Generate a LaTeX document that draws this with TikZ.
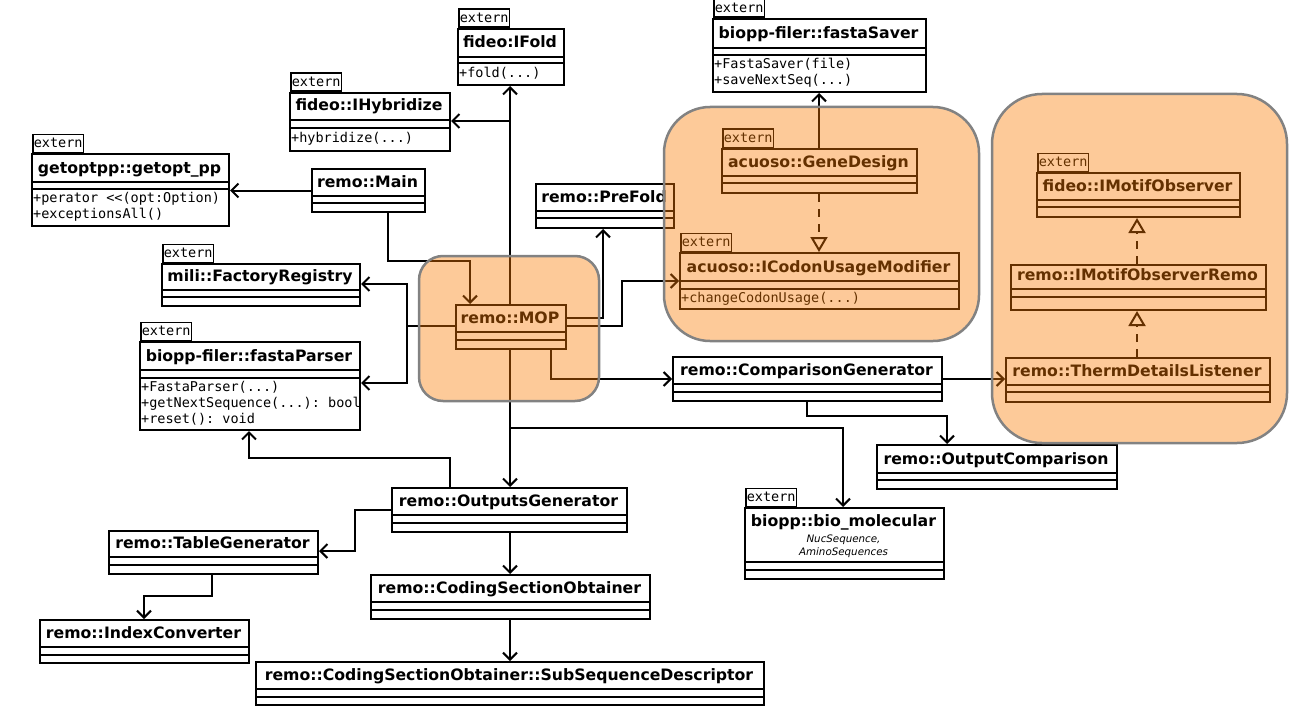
\documentclass[tikz,border=0pt]{standalone}
\usepackage{fontspec}
\setmainfont{DejaVu Sans}
\setmonofont{DejaVu Sans Mono}
\usetikzlibrary{arrows.meta}

\tikzset{
 cls/.style={draw=black, line width=2pt, fill=white, inner sep=0pt, anchor=north west},
 ttl/.style={font=\fontsize{15.7}{18}\selectfont\bfseries, inner sep=0pt, anchor=base},
 meth/.style={font=\fontsize{13.5}{16}\selectfont\ttfamily, align=left, anchor=north west, inner sep=0pt},
 tabbox/.style={draw, line width=1.5pt, fill=white, font=\fontsize{13.5}{14}\selectfont\ttfamily, inner xsep=1pt, inner ysep=0pt, minimum height=18pt, anchor=south west},
 conn/.style={line width=2pt},
 arr/.style={conn, -{Straight Barb[length=7pt,width=14pt,line width=2pt]}},
 real/.style={line width=2pt, dash pattern=on 8pt off 7pt, -{Triangle[open,length=15pt,width=17pt,line width=2pt]}},
 region/.style={fill={rgb,255:red,250;green,122;blue,0}, fill opacity=0.4},
 regionb/.style={draw={rgb,255:red,130;green,130;blue,130}, line width=2.5pt},
 ital/.style={font=\fontsize{10.3}{13}\selectfont\itshape, inner sep=0pt, anchor=base},
}

% name x1 y1 x2 y2 ytitle yline title
\newcommand\umlcls[8]{%
  \node[cls, minimum width={(#4-#2)*1pt}, minimum height={(#5-#3)*1pt}] (#1) at (#2,#3) {};
  \draw[line width=2pt] (#2,#6) -- (#4,#6);
  \draw[line width=2pt] (#2,#7) -- (#4,#7);
  \node[ttl] (#1-t) at ({(#2+#4)/2},{#6-9}) {#8};
}
\newcommand\umltab[3]{\node[tabbox] (#1-x) at ({#2+1},#3) {extern};}

\begin{document}
\begin{tikzpicture}[x=1pt,y=-1pt]
\useasboundingbox (0,0) rectangle (1300,706);

% ---------- classes ----------
\umltab{ifold}{457}{28}
\umlcls{ifold}{457}{28}{563}{84}{57}{63}{fideo:IFold}
\node[meth] (ifold-m) at (459,67) {+fold(...)};

\umltab{ihyb}{289}{92}
\umlcls{ihyb}{289}{92}{449}{150}{120}{128}{fideo::IHybridize}
\node[meth] (ihyb-m) at (291,132) {+hybridize(...)};

\umltab{getopt}{31}{153}
\umlcls{getopt}{31}{153}{228}{225}{182}{189}{getoptpp::getopt\_pp}
\node[meth] (getopt-m) at (33,192) {+perator <{}<(opt:Option)\\+exceptionsAll()};

\umlcls{main}{311}{168}{424}{211}{196}{203}{remo::Main}

\umltab{saver}{712}{18}
\umlcls{saver}{712}{18}{925}{91}{48}{55}{biopp-filer::fastaSaver}
\node[meth] (saver-m) at (714,58) {+FastaSaver(file)\\+saveNextSeq(...)};

\umlcls{prefold}{535}{183}{673}{227}{211}{218}{remo::PreFold}

\umltab{gene}{721}{148}
\umlcls{gene}{721}{148}{916}{192}{176}{183}{acuoso::GeneDesign}

\umltab{codon}{679}{252}
\umlcls{codon}{679}{252}{958}{308}{281}{289}{acuoso::ICodonUsageModifier}
\node[meth] (codon-m) at (681,292) {+changeCodonUsage(...)};

\umltab{imotif}{1036}{172}
\umlcls{imotif}{1036}{172}{1239}{216}{200}{207}{fideo::IMotifObserver}

\umlcls{imotifremo}{1010}{264}{1265}{309}{289}{297}{remo::IMotifObserverRemo}
\umlcls{therm}{1005}{357}{1269}{401}{385}{392}{remo::ThermDetailsListener}

\umltab{mili}{161}{263}
\umlcls{mili}{161}{263}{359}{305}{290}{297}{mili::FactoryRegistry}

\umltab{parser}{139}{341}
\umlcls{parser}{139}{341}{359}{429}{370}{378}{biopp-filer::fastaParser}
\node[meth] (parser-m) at (141,381) {+FastaParser(...)\\+getNextSequence(...): bool\\+reset(): void};

\umlcls{mop}{455}{304}{565}{348}{332}{340}{remo::MOP}
\umlcls{compgen}{672}{356}{941}{400}{384}{392}{remo::ComparisonGenerator}
\umlcls{outcomp}{876}{444}{1116}{488}{473}{480}{remo::OutputComparison}
\umlcls{outgen}{391}{487}{626}{531}{515}{523}{remo::OutputsGenerator}

\umltab{biomol}{744}{507}
\node[cls, minimum width=199pt, minimum height=71pt] (biomol) at (744,507) {};
\draw[line width=2pt] (744,562) -- (943,562);
\draw[line width=2pt] (744,570) -- (943,570);
\node[ttl] (biomol-t) at (843.5,526) {biopp::bio\_molecular};
\node[ital] (biomol-s1) at (843.5,542) {NucSequence,};
\node[ital] (biomol-s2) at (843.5,555) {AminoSequences};

\umlcls{tablegen}{108}{530}{317}{573}{557}{565}{remo::TableGenerator}
\umlcls{coding}{370}{574}{649}{618}{602}{610}{remo::CodingSectionObtainer}
\umlcls{index}{39}{619}{248}{662}{647}{655}{remo::IndexConverter}
\umlcls{subseq}{255}{661}{763}{704}{689}{697}{remo::CodingSectionObtainer::SubSequenceDescriptor}

% ---------- connectors ----------
\coordinate (x510) at (510,0);
\coordinate (x819) at (819,0);
\coordinate (x1137) at (1137,0);

\draw[arr] (main.west) -- (main.west -| getopt.east);

\coordinate (c2a) at (388,261); \coordinate (c2b) at (470,261);
\draw[arr] (main.south -| c2a) -- (c2a) -- (c2b) -- (mop.north -| c2b);

\draw[arr] (mop.north -| x510) -- (ifold.south -| x510);
\coordinate (c3) at (510,121);
\draw[arr] (c3) -- (c3 -| ihyb.east);

\coordinate (c4) at (603,318);
\draw[arr] (mop.east |- c4) -- (c4) -- (c4 |- prefold.south);

\coordinate (c5) at (622,326); \coordinate (c5b) at (622,281);
\draw[arr] (mop.east |- c5) -- (c5) -- (c5b) -- (c5b -| codon.west);

\coordinate (c6) at (407,326); \coordinate (c6a) at (407,284); \coordinate (c6b) at (407,383);
\draw[conn] (mop.west |- c6) -- (c6);
\draw[arr] (c6) -- (c6a) -- (c6a -| mili.east);
\draw[arr] (c6) -- (c6b) -- (c6b -| parser.east);

\coordinate (c7) at (551,379);
\draw[arr] (mop.south -| c7) -- (c7) -- (c7 -| compgen.west);

\draw[arr] (mop.south -| x510) -- (outgen.north -| x510);

\coordinate (c9) at (510,428); \coordinate (c9b) at (843,428);
\draw[arr] (c9) -- (c9b) -- (c9b |- biomol.north);

\coordinate (c10) at (450,458); \coordinate (c10b) at (249,458);
\draw[arr] (outgen.north -| c10) -- (c10) -- (c10b) -- (c10b |- parser.south);

\coordinate (c11) at (355,510); \coordinate (c11b) at (355,551);
\draw[arr] (outgen.west |- c11) -- (c11) -- (c11b) -- (c11b -| tablegen.east);

\draw[arr] (outgen.south -| x510) -- (coding.north -| x510);
\draw[arr] (coding.south -| x510) -- (subseq.north -| x510);

\coordinate (c14) at (212,596); \coordinate (c14b) at (144,596);
\draw[arr] (tablegen.south -| c14) -- (c14) -- (c14b) -- (c14b |- index.north);

\coordinate (c15) at (807,416); \coordinate (c15b) at (947,416);
\draw[arr] (compgen.south -| c15) -- (c15) -- (c15b) -- (c15b |- outcomp.north);

\draw[arr] (compgen.east |- c7) -- (c7 -| therm.west);

\draw[arr] (gene.north -| x819) -- (saver.south -| x819);
\draw[real] (gene.south -| x819) -- (codon.north -| x819);
\draw[real] (imotifremo.north -| x1137) -- (imotif.south -| x1137);
\draw[real] (therm.north -| x1137) -- (imotifremo.south -| x1137);

% ---------- highlighted regions ----------
\path[region, rounded corners=24pt] (419,256) rectangle (599,401);
\path[regionb, rounded corners=24pt] (419,256) rectangle (599,401);
\path[region, rounded corners=46pt] (664,107) rectangle (979,341);
\path[regionb, rounded corners=46pt] (664,107) rectangle (979,341);
\path[region, rounded corners=50pt] (992,94) rectangle (1287,443);
\path[regionb, rounded corners=50pt] (992,94) rectangle (1287,443);
\end{tikzpicture}
\end{document}
